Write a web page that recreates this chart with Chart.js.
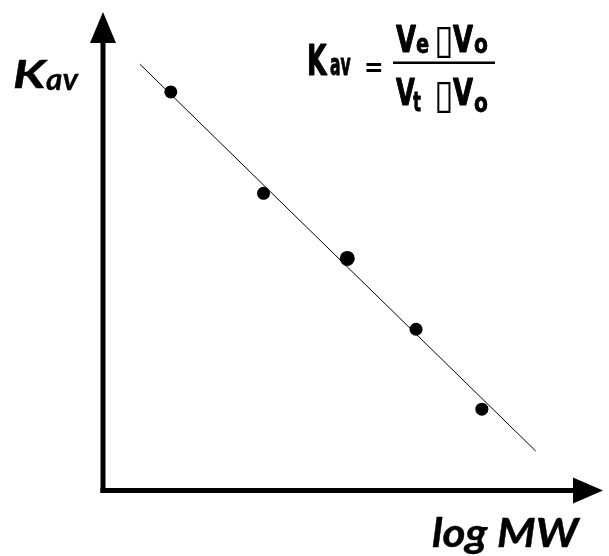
<!DOCTYPE html>
<html><head><meta charset="utf-8">
<script src="https://cdn.jsdelivr.net/npm/chart.js@4"></script>
<style>html,body{margin:0;padding:0;background:#fff}</style>
</head><body>
<canvas id="c" width="609" height="556"></canvas>
<script>
// data (log MW vs Kav)
const logMW = [0.68, 1.61, 2.45, 3.14, 3.80];
const kavValues = [0.833, 0.621, 0.485, 0.337, 0.170];
const pointSizes = [6.5, 6.5, 7.5, 6.5, 6.5];
const fitX = [0.37, 4.34];
const fitY = [0.891, 0.0825];
const xAxisTitle = 'log MW';
const yAxisTitle = ['K', 'av'];

function txt(ctx, s, x, y, font, sx, stroke) {
  ctx.save();
  ctx.font = font;
  ctx.translate(x, y);
  ctx.scale(sx || 1, 1);
  ctx.textBaseline = 'alphabetic';
  ctx.textAlign = 'left';
  ctx.fillText(s, 0, 0);
  if (stroke) { ctx.lineWidth = stroke; ctx.lineJoin = 'round'; ctx.strokeText(s, 0, 0); }
  ctx.restore();
}

const decor = {
  id: 'decor',
  afterDraw(chart) {
    const ctx = chart.ctx;
    const xs = chart.scales.x, ys = chart.scales.y;
    const ox = xs.getPixelForValue(0), oy = ys.getPixelForValue(0);
    ctx.save();
    ctx.fillStyle = '#000';
    ctx.strokeStyle = '#000';
    ctx.lineWidth = 5;
    ctx.lineCap = 'butt';
    // y axis
    ctx.beginPath();
    ctx.moveTo(ox, oy + 2.5);
    ctx.lineTo(ox, 43);
    ctx.stroke();
    ctx.beginPath();
    ctx.moveTo(ox, 12); ctx.lineTo(ox - 13, 43); ctx.lineTo(ox + 13, 43); ctx.closePath(); ctx.fill();
    // x axis
    ctx.beginPath();
    ctx.moveTo(ox - 2.5, oy);
    ctx.lineTo(573, oy);
    ctx.stroke();
    ctx.beginPath();
    ctx.moveTo(603, oy); ctx.lineTo(573, oy - 13); ctx.lineTo(573, oy + 13); ctx.closePath(); ctx.fill();

    // axis titles
    txt(ctx, yAxisTitle[0], 13, 88, 'italic bold 39px Lato', 1.3, 0.5);
    txt(ctx, yAxisTitle[1], 46, 90, 'italic bold 30px Lato', 1.05, 0.3);
    txt(ctx, xAxisTitle, 432, 547, 'italic bold 40px Lato', 1.1, 0.4);

    // formula
    const F = (n) => 'bold ' + n + 'px "DejaVu Sans"';
    txt(ctx, 'K', 307, 75, F(42), 0.6, 1.2);
    txt(ctx, 'av', 330, 75, F(30), 0.52, 1.0);
    txt(ctx, '=', 364, 76, F(26), 0.9);
    ctx.fillRect(393, 61.5, 102, 2.5);
    txt(ctx, 'V', 396, 52, F(38), 0.68, 1.2);
    txt(ctx, 'e', 416, 53, F(27), 0.72, 0.8);
    txt(ctx, '\u25AF', 434, 53, '40px "DejaVu Sans"', 0.9);
    txt(ctx, 'V', 453, 52, F(38), 0.68, 1.2);
    txt(ctx, 'o', 474, 53, F(27), 0.75, 0.8);
    txt(ctx, 'V', 396, 105, F(38), 0.64, 1.2);
    txt(ctx, 't', 413, 111, F(27), 0.62, 0.8);
    txt(ctx, '\u25AF', 434, 108, '40px "DejaVu Sans"', 0.9);
    txt(ctx, 'V', 453, 105, F(38), 0.68, 1.2);
    txt(ctx, 'o', 474, 112, F(27), 0.75, 0.8);
    ctx.restore();
  }
};

new Chart(document.getElementById('c'), {
  type: 'scatter',
  data: {
    datasets: [
      {
        label: 'fit',
        type: 'line',
        data: fitX.map((x, i) => ({x, y: fitY[i]})),
        borderColor: '#000',
        borderWidth: 1,
        pointRadius: 0,
        fill: false,
        order: 2
      },
      {
        label: 'Kav',
        data: logMW.map((x, i) => ({x, y: kavValues[i]})),
        backgroundColor: '#000',
        borderWidth: 0,
        pointRadius: pointSizes,
        pointHoverRadius: pointSizes,
        order: 1
      }
    ]
  },
  options: {
    responsive: false,
    animation: false,
    events: [],
    layout: { padding: { left: 103, right: 6, top: 12, bottom: 65.5 } },
    plugins: { legend: { display: false }, tooltip: { enabled: false } },
    scales: {
      x: { type: 'linear', min: 0, max: 5, display: false },
      y: { type: 'linear', min: 0, max: 1, display: false }
    }
  },
  plugins: [decor]
});
</script>
</body></html>
